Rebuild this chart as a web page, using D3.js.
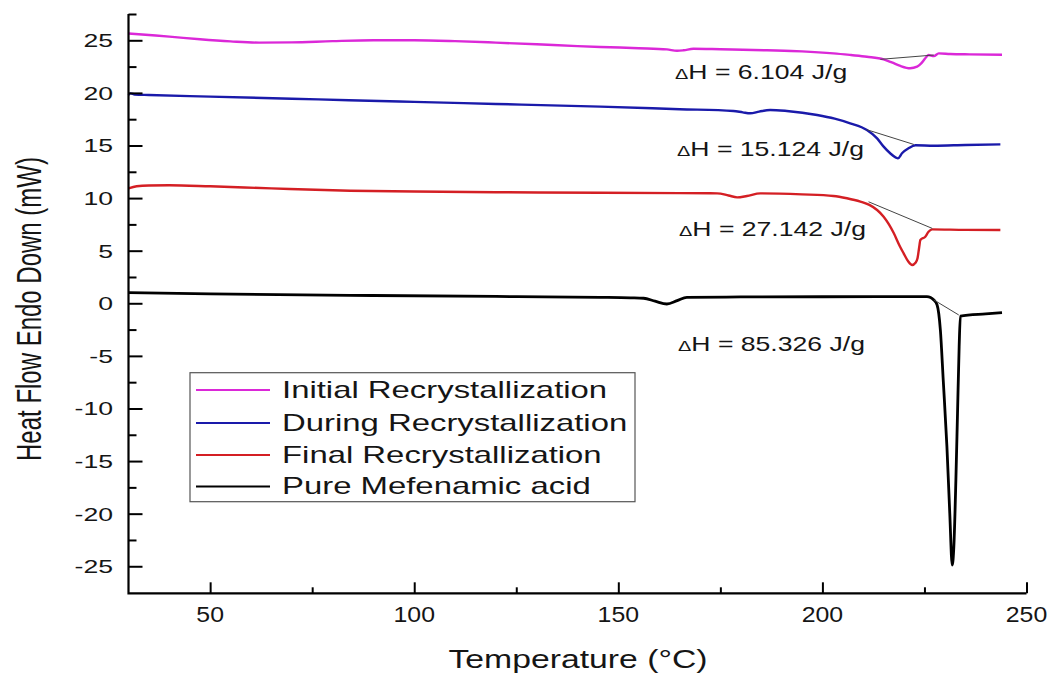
<!DOCTYPE html>
<html>
<head>
<meta charset="utf-8">
<script src="https://cdn.jsdelivr.net/npm/d3@7"></script>
<style>
  body { margin: 0; background: #fff; }
  svg { display: block; }
  text { font-family: "Liberation Sans", Arial, Helvetica, sans-serif; fill: #151515; }
</style>
</head>
<body>
<svg id="chart" width="1054" height="673"></svg>
<script>
// DSC thermograms: [temperature (°C), heat flow (mW)]
const initialRecrystallization = [
  [30, 25.65], [35, 25.5], [40, 25.35], [47.5, 25.1], [55, 24.9], [62, 24.78], [70, 24.8],
  [80, 24.92], [90, 25.0], [100, 25.0], [110, 24.92], [120, 24.78], [130, 24.62], [140, 24.45],
  [145.6, 24.37], [155, 24.25], [161.9, 24.14], [164.4, 24.0], [166, 24.05], [168.4, 24.2],
  [175, 24.15], [186.4, 24.05], [195, 23.95], [202.7, 23.76], [207, 23.6], [210.9, 23.44],
  [215, 23.19], [217, 22.9], [219.1, 22.56], [221.5, 22.34], [223.2, 22.49], [224.2, 22.8],
  [225.2, 23.29], [226.0, 23.6], [227.3, 23.5], [228.5, 23.76], [231.3, 23.7], [236, 23.66],
  [244, 23.63]
];
const duringRecrystallization = [
  [30, 19.8], [30.5, 19.95], [31.5, 19.85], [35, 19.8], [50, 19.65], [70, 19.45], [84, 19.3],
  [100, 19.15], [120, 18.95], [145.6, 18.69], [165, 18.45], [178.2, 18.28], [180.5, 18.15],
  [182.3, 18.06], [184.5, 18.22], [187.2, 18.38], [191.3, 18.28], [198.7, 17.9], [203, 17.55],
  [206.8, 17.11], [210.9, 16.47], [213.4, 15.68], [215, 14.89], [216.6, 14.26], [218, 13.85],
  [218.5, 13.78], [219.5, 14.26], [221.1, 14.73], [222.8, 15.02], [227.3, 14.98], [235, 15.05],
  [243.6, 15.11]
];
const finalRecrystallization = [
  [30, 10.92], [32, 11.12], [35, 11.2], [40, 11.22], [50, 11.12], [65, 10.92], [84.3, 10.7],
  [100, 10.62], [120, 10.56], [145.6, 10.51], [165, 10.47], [174.2, 10.45], [177, 10.25],
  [179.1, 10.07], [181.5, 10.2], [184.8, 10.45], [195, 10.35], [202.7, 10.2], [206, 9.98],
  [209.3, 9.66], [211.5, 9.35], [213.4, 8.87], [215.0, 8.23], [216.3, 7.5], [217.5, 6.65],
  [219, 5.4], [219.9, 4.75], [221, 4.0], [222.0, 3.64], [222.8, 3.85], [223.3, 4.28],
  [223.7, 5.3], [224.0, 6.02], [225.2, 6.33], [226.0, 6.8], [226.9, 7.03], [235, 6.98],
  [243.6, 6.97]
];
const pureMefenamicAcid = [
  [30, 1.01], [50, 0.9], [84.3, 0.76], [120, 0.65], [145.6, 0.57], [153, 0.52], [156.2, 0.48],
  [159, 0.2], [161.9, -0.07], [164.4, 0.25], [166.8, 0.57], [180, 0.6], [200, 0.62],
  [225.6, 0.63], [226.5, 0.55], [227.3, 0.31], [228.1, -0.16], [228.9, -2.54], [229.6, -7.29],
  [230.5, -13.6], [231.2, -19.96], [231.8, -24.88], [232.2, -23.14], [232.7, -16.8],
  [233.1, -10.46], [233.5, -4.13], [233.8, -1.21], [240, -1.0], [244, -0.89]
];

const seriesNames = ["Initial Recrystallization", "During Recrystallization",
                     "Final Recrystallization", "Pure Mefenamic acid"];
const seriesData = [initialRecrystallization, duringRecrystallization,
                    finalRecrystallization, pureMefenamicAcid];

// Integration baselines under each melting endotherm: [[T1, HF1], [T2, HF2]]
const peakBaselines = [
  [[214.2, 23.19], [227.3, 23.6]],
  [[210.9, 16.5], [222.4, 15.1]],
  [[211.3, 9.65], [226.9, 7.12]],
  [[227.3, 0.32], [233.4, -1.11]]
];
// Enthalpy of fusion for each sample (J/g)
const enthalpyValues = ["6.104", "15.124", "27.142", "85.326"];

const xMajorTicks = [50, 100, 150, 200, 250];
const xMinorTicks = [75, 125, 175, 225];
const yMajorTicks = [-25, -20, -15, -10, -5, 0, 5, 10, 15, 20, 25];
const yMinorTicks = [-22.5, -17.5, -12.5, -7.5, -2.5, 2.5, 7.5, 12.5, 17.5, 22.5, 27.5];

// ---- styling ----
const colors = ["#db28d8", "#1a1aaa", "#d41f24", "#000000"];
const lineWidths = [2.4, 2.4, 2.4, 2.8];

const svg = d3.select("#chart");
const x = d3.scaleLinear().domain([30, 250]).range([128.5, 1026.5]);
const y = d3.scaleLinear().domain([-27.57, 27.5]).range([593.3, 14]);

// curves
const line = d3.line().x(d => x(d[0])).y(d => y(d[1])).curve(d3.curveMonotoneX);
svg.append("g").selectAll("path").data(seriesData).join("path")
  .attr("d", line)
  .attr("fill", "none")
  .attr("stroke", (d, i) => colors[i])
  .attr("stroke-width", (d, i) => lineWidths[i])
  .attr("stroke-linejoin", "round");

// peak baselines
svg.append("g").selectAll("line").data(peakBaselines).join("line")
  .attr("x1", d => x(d[0][0])).attr("y1", d => y(d[0][1]))
  .attr("x2", d => x(d[1][0])).attr("y2", d => y(d[1][1]))
  .attr("stroke", "#444").attr("stroke-width", 1);

// axes: inward ticks, left and bottom spines only
const axisG = svg.append("g").attr("stroke", "#000");
axisG.append("g").attr("transform", `translate(${x.range()[0]},0)`)
  .call(d3.axisLeft(y).tickValues(yMajorTicks).tickSize(-14).tickFormat("").tickSizeOuter(0))
  .call(g => g.select(".domain").remove());
axisG.append("g").attr("transform", `translate(${x.range()[0]},0)`)
  .call(d3.axisLeft(y).tickValues(yMinorTicks).tickSize(-8).tickFormat("").tickSizeOuter(0))
  .call(g => g.select(".domain").remove());
axisG.append("g").attr("transform", `translate(0,${y.range()[0]})`)
  .call(d3.axisBottom(x).tickValues(xMajorTicks).tickSize(-11).tickFormat("").tickSizeOuter(0))
  .call(g => g.select(".domain").remove());
axisG.append("g").attr("transform", `translate(0,${y.range()[0]})`)
  .call(d3.axisBottom(x).tickValues(xMinorTicks).tickSize(-6).tickFormat("").tickSizeOuter(0))
  .call(g => g.select(".domain").remove());
svg.selectAll(".tick line").attr("stroke", "#000").attr("stroke-width", 2);

svg.append("path")
  .attr("d", `M${x.range()[0]},${y.range()[1]}V${y.range()[0]}H${x.range()[1]}`)
  .attr("fill", "none").attr("stroke", "#000").attr("stroke-width", 2.2);

// tick labels
svg.append("g").selectAll("text").data(yMajorTicks).join("text")
  .attr("transform", d => `translate(113,${y(d)}) scale(1.4,1)`)
  .attr("text-anchor", "end").attr("dy", "0.36em")
  .attr("font-size", 19)
  .text(d => d);
svg.append("g").selectAll("text").data(xMajorTicks).join("text")
  .attr("transform", d => `translate(${x(d)},622) scale(1.13,1)`)
  .attr("text-anchor", "middle")
  .attr("font-size", 22)
  .text(d => d);

// axis titles
svg.append("text")
  .attr("transform", "translate(578,668) scale(1.35,1)")
  .attr("text-anchor", "middle").attr("font-size", 25)
  .text("Temperature (\u00B0C)");
svg.append("text")
  .attr("transform", "translate(41,309) rotate(-90) scale(1,1.45)")
  .attr("text-anchor", "middle").attr("font-size", 24)
  .text("Heat Flow Endo Down (mW)");

// enthalpy annotations
const labelAnchors = [[675, 79], [677, 155.5], [679, 236], [678, 350.5]];
const ann = svg.append("g").selectAll("text").data(enthalpyValues).join("text")
  .attr("transform", (d, i) => `translate(${labelAnchors[i][0]},${labelAnchors[i][1]}) scale(1.33,1)`)
  .attr("font-size", 20);
ann.append("tspan").attr("font-size", 15).text("\u0394");
ann.append("tspan").text(d => `H = ${d} J/g`);

// legend
const legend = svg.append("g");
legend.append("rect")
  .attr("x", 190).attr("y", 372.7).attr("width", 445).attr("height", 129)
  .attr("fill", "#fff").attr("stroke", "#555").attr("stroke-width", 1.2);
const rowY = [390, 423, 455, 486.5];
const rows = legend.selectAll("g.row").data(seriesNames).join("g")
  .attr("class", "row")
  .attr("transform", (d, i) => `translate(0,${rowY[i]})`);
rows.append("line")
  .attr("x1", 196).attr("x2", 270)
  .attr("stroke", (d, i) => colors[i]).attr("stroke-width", 2.2);
rows.append("text")
  .attr("transform", "translate(282,7.6) scale(1.43,1)")
  .attr("font-size", 23)
  .text(d => d);
</script>
</body>
</html>
